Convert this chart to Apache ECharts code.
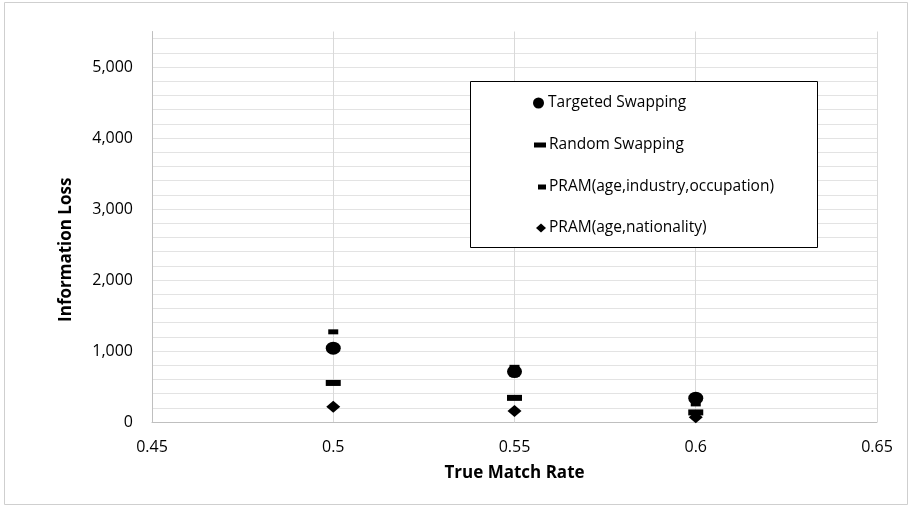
<!DOCTYPE html>
<html>
<head>
<meta charset="utf-8">
<script src="https://cdn.jsdelivr.net/npm/echarts@6/dist/echarts.min.js"></script>
<style>
  html, body { margin: 0; padding: 0; background: #fff; }
  #chart { width: 910px; height: 506px; }
</style>
</head>
<body>
<div id="chart"></div>
<script>
// True match rate for each run (x values)
const matchRates = [0.5, 0.55, 0.6];

// Information loss per disclosure-control method
const targetedSwapping = [1040, 710, 335];
const randomSwapping = [550, 340, 135];
const pramAgeIndustryOccupation = [1270, 770, 255];
const pramAgeNationality = [215, 155, 68];

const seriesNames = [
  'Targeted Swapping',
  'Random Swapping',
  'PRAM(age,industry,occupation)',
  'PRAM(age,nationality)'
];

const xTicks = { min: 0.45, max: 0.65, interval: 0.05 };
const yTicks = { min: 0, max: 5500, interval: 200, labelStep: 1000 };

const FONT = '"Open Sans", sans-serif';

function pairs(values) {
  return matchRates.map((x, i) => [x, values[i]]);
}

// Symbol shape and size per series
const markers = [
  { symbol: 'circle', size: [15, 13] },
  { symbol: 'rect', size: [15, 6] },
  { symbol: 'rect', size: [10, 5] },
  { symbol: 'diamond', size: [14, 12] }
];
const valuesBySeries = [targetedSwapping, randomSwapping, pramAgeIndustryOccupation, pramAgeNationality];

// Horizontal grid lines every 200; the one at the axis maximum stays hidden
const yLineCount = Math.floor((yTicks.max - yTicks.min) / yTicks.interval) + 2;
const yLineColors = Array.from({ length: yLineCount }, (_, i) =>
  i === yLineCount - 1 ? 'rgba(0,0,0,0)' : '#e3e3e3');

// One legend block per series so each icon keeps its own size
const legendRows = [105, 147, 189, 230];
const legendIcons = [
  { w: 13, h: 11, icon: 'circle' },
  { w: 12, h: 5, icon: 'rect' },
  { w: 8, h: 5, icon: 'rect' },
  { w: 10, h: 9, icon: 'diamond' }
];
const legends = seriesNames.map((name, i) => ({
  data: [{ name: name, icon: legendIcons[i].icon, itemStyle: { color: '#000', opacity: 1 } }],
  left: 546 - legendIcons[i].w,
  top: legendRows[i] - 10,
  padding: 0,
  z: 10,
  itemWidth: legendIcons[i].w,
  itemHeight: legendIcons[i].h,
  itemGap: 0,
  selectedMode: false,
  textStyle: { fontFamily: FONT, fontSize: 15.5, color: '#000', padding: [0, 0, 0, -2] }
}));

const chart = echarts.init(document.getElementById('chart'), null, { renderer: 'canvas' });

chart.setOption({
  animation: false,
  backgroundColor: '#fff',
  grid: { left: 152, right: 33, top: 31.5, bottom: 84, containLabel: false },
  legend: legends,
  graphic: [
    {
      type: 'rect',
      shape: { x: 4.5, y: 2.5, width: 903, height: 502 },
      style: { fill: 'none', stroke: '#cfcfcf', lineWidth: 1 },
      silent: true,
      z: -1
    },
    {
      type: 'rect',
      shape: { x: 470.5, y: 81.5, width: 347, height: 166 },
      style: { fill: '#fff', stroke: '#000', lineWidth: 1 },
      silent: true,
      z: 3
    }
  ],
  xAxis: {
    type: 'value',
    min: xTicks.min,
    max: xTicks.max,
    interval: xTicks.interval,
    name: 'True Match Rate',
    nameLocation: 'middle',
    nameGap: 43,
    nameTextStyle: { fontFamily: FONT, fontSize: 17, fontWeight: 'bold', color: '#000' },
    axisLine: { show: true, lineStyle: { color: '#bfbfbf', width: 1 } },
    axisTick: { show: false },
    axisLabel: {
      fontFamily: FONT, fontSize: 16, color: '#000', margin: 17,
      formatter: v => String(Math.round(v * 100) / 100)
    },
    splitLine: { show: true, lineStyle: { color: '#d9d9d9', width: 1 } }
  },
  yAxis: {
    type: 'value',
    min: yTicks.min,
    max: yTicks.max,
    interval: yTicks.interval,
    name: 'Information Loss',
    nameLocation: 'middle',
    nameGap: 77,
    nameTextStyle: {
      fontFamily: FONT, fontSize: 17, fontWeight: 'bold', color: '#000',
      padding: [0, 46, 0, 0]
    },
    axisLine: { show: true, lineStyle: { color: '#bfbfbf', width: 1 } },
    axisTick: { show: false },
    axisLabel: {
      fontFamily: FONT, fontSize: 16, color: '#000', margin: 19,
      formatter: v => (v % yTicks.labelStep === 0 && v <= 5000) ? v.toLocaleString('en-US') : ''
    },
    splitLine: { show: true, lineStyle: { color: yLineColors, width: 1 } }
  },
  series: seriesNames.map((name, i) => ({
    name: name,
    type: 'scatter',
    symbol: markers[i].symbol,
    symbolSize: markers[i].size,
    itemStyle: { color: '#000', opacity: 1 },
    data: pairs(valuesBySeries[i]),
    z: 2 + i
  }))
});
</script>
</body>
</html>
